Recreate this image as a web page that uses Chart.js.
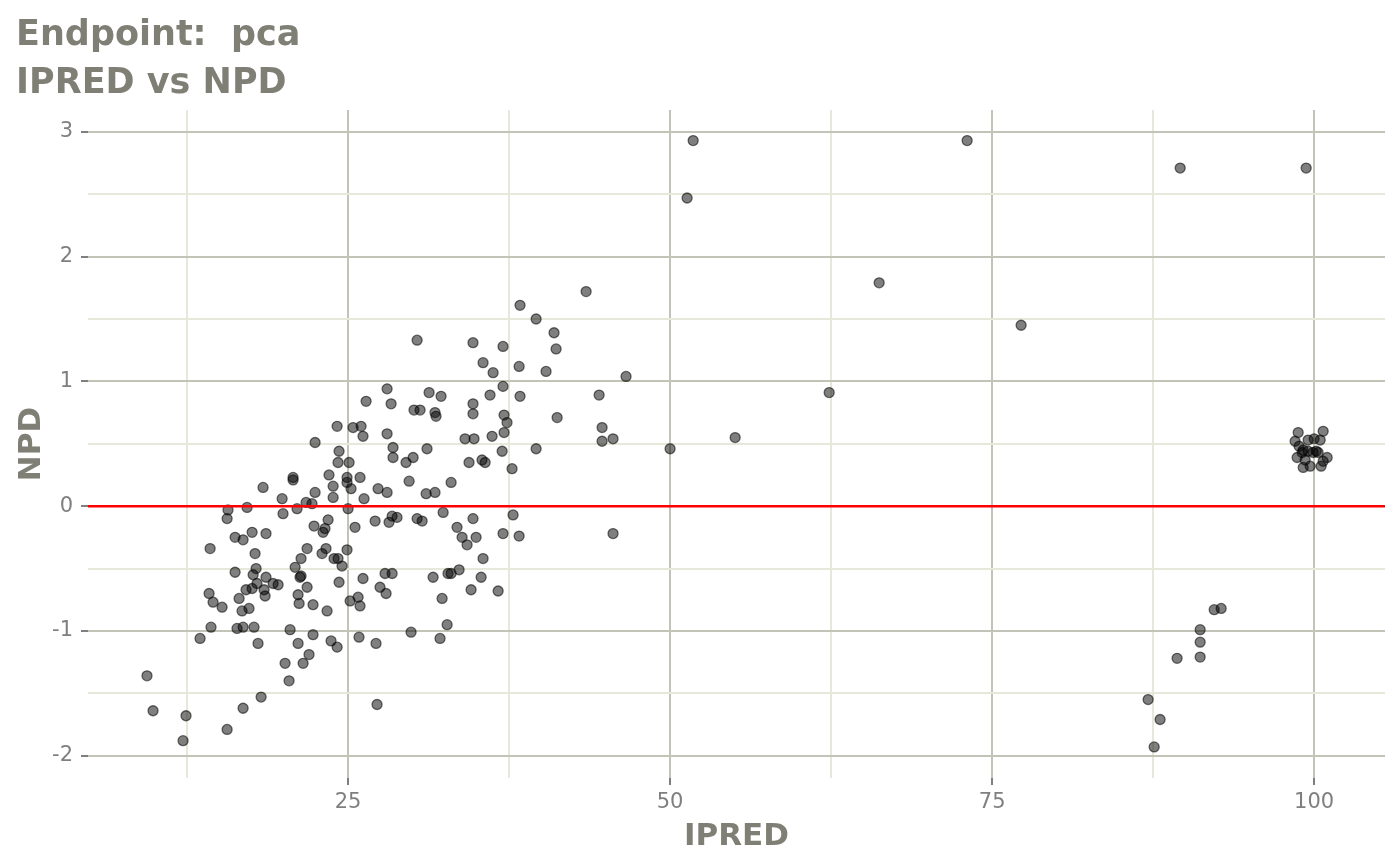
<!DOCTYPE html>
<html>
<head>
<meta charset="utf-8">
<title>IPRED vs NPD</title>
<script src="https://cdn.jsdelivr.net/npm/chart.js@4/dist/chart.umd.min.js"></script>
<style>
  html, body { margin: 0; padding: 0; background: #ffffff; }
  #wrap { width: 1400px; height: 865px; }
</style>
</head>
<body>
<div id="wrap"><canvas id="grafica"></canvas></div>
<script>
"use strict";

// valores (IPRED en x, NPD en y)
const ipred = [
  9.39, 9.86, 12.19, 12.42, 15.61, 16.85, 18.25, 27.25, 18.40, 20.73,
  19.88, 21.74, 22.44, 22.20, 15.68, 17.16, 15.61, 19.95, 21.04, 22.36,
  16.23, 16.85, 17.55, 18.63, 14.29, 17.78, 21.82, 21.35, 20.89, 16.23,
  17.86, 17.63, 18.63, 21.27, 21.35, 19.18, 19.57, 17.93, 17.55, 17.08,
  18.48, 18.56, 21.82, 14.21, 14.52, 15.22, 16.54, 16.77, 17.31, 21.12,
  21.20, 22.28, 14.36, 13.51, 16.38, 16.85, 17.70, 18.01, 20.50, 21.12,
  22.28, 21.97, 20.11, 21.51, 20.42, 23.84, 23.84, 24.92, 25.23, 26.24,
  27.33, 28.03, 29.74, 31.06, 31.75, 33.00, 25.00, 23.45, 23.06, 23.21,
  25.54, 27.10, 28.18, 28.42, 28.80, 30.36, 30.75, 32.38, 34.70, 33.46,
  33.85, 34.24, 34.94, 35.48, 23.29, 22.98, 24.92, 23.91, 24.22, 24.53,
  24.30, 26.16, 27.48, 27.95, 27.87, 28.42, 31.60, 32.76, 33.00, 33.62,
  35.33, 34.55, 32.30, 23.37, 25.16, 25.78, 25.93, 23.68, 24.15, 25.85,
  27.17, 29.89, 32.14, 32.69, 26.40, 24.15, 25.39, 26.01, 26.16, 22.44,
  24.30, 24.22, 25.08, 20.73, 23.52, 24.92, 25.93, 38.35, 39.60, 30.36,
  34.70, 37.03, 35.48, 36.26, 38.28, 40.37, 37.03, 36.02, 38.35, 28.03,
  31.29, 32.22, 28.34, 30.12, 30.59, 31.75, 31.83, 34.70, 34.70, 37.11,
  37.34, 37.11, 36.18, 34.08, 34.78, 28.03, 28.49, 28.49, 29.50, 30.05,
  31.13, 36.96, 39.60, 34.39, 35.40, 35.64, 37.73, 43.48, 40.99, 41.15,
  46.58, 44.49, 41.23, 44.72, 44.72, 45.57, 37.81, 37.03, 38.28, 45.57,
  36.65, 50.00, 51.32, 51.79, 55.05, 62.35, 66.23, 73.06, 77.25, 87.11,
  87.58, 88.04, 89.36, 89.60, 91.15, 91.15, 91.15, 92.24, 92.78, 99.38,
  98.76, 100.70, 98.52, 100.00, 100.47, 98.83, 99.15, 99.53, 99.92, 100.31,
  99.07, 98.68, 101.01, 99.30, 100.70, 99.15, 99.69, 100.54, 99.53, 100.16
];

const npd = [
  -1.36, -1.64, -1.88, -1.68, -1.79, -1.62, -1.53, -1.59, 0.15, 0.21,
  0.06, 0.03, 0.11, 0.02, -0.03, -0.01, -0.10, -0.06, -0.02, -0.16,
  -0.25, -0.27, -0.21, -0.22, -0.34, -0.38, -0.34, -0.42, -0.49, -0.53,
  -0.50, -0.55, -0.57, -0.57, -0.56, -0.62, -0.63, -0.62, -0.66, -0.67,
  -0.67, -0.72, -0.65, -0.70, -0.77, -0.81, -0.74, -0.84, -0.82, -0.71,
  -0.78, -0.79, -0.97, -1.06, -0.98, -0.97, -0.97, -1.10, -0.99, -1.10,
  -1.03, -1.19, -1.26, -1.26, -1.40, 0.16, 0.07, 0.19, 0.14, 0.06,
  0.14, 0.11, 0.20, 0.10, 0.11, 0.19, -0.02, -0.11, -0.21, -0.18,
  -0.17, -0.12, -0.13, -0.08, -0.09, -0.10, -0.12, -0.05, -0.10, -0.17,
  -0.25, -0.31, -0.25, -0.42, -0.34, -0.38, -0.35, -0.42, -0.42, -0.48,
  -0.61, -0.58, -0.65, -0.70, -0.54, -0.54, -0.57, -0.54, -0.54, -0.51,
  -0.57, -0.67, -0.74, -0.84, -0.76, -0.73, -0.80, -1.08, -1.13, -1.05,
  -1.10, -1.01, -1.06, -0.95, 0.84, 0.64, 0.63, 0.64, 0.56, 0.51,
  0.44, 0.35, 0.35, 0.23, 0.25, 0.23, 0.23, 1.61, 1.50, 1.33,
  1.31, 1.28, 1.15, 1.07, 1.12, 1.08, 0.96, 0.89, 0.88, 0.94,
  0.91, 0.88, 0.82, 0.77, 0.77, 0.75, 0.72, 0.82, 0.74, 0.73,
  0.67, 0.59, 0.56, 0.54, 0.54, 0.58, 0.47, 0.39, 0.35, 0.39,
  0.46, 0.44, 0.46, 0.35, 0.37, 0.35, 0.30, 1.72, 1.39, 1.26,
  1.04, 0.89, 0.71, 0.63, 0.52, 0.54, -0.07, -0.22, -0.24, -0.22,
  -0.68, 0.46, 2.47, 2.93, 0.55, 0.91, 1.79, 2.93, 1.45, -1.55,
  -1.93, -1.71, -1.22, 2.71, -0.99, -1.09, -1.21, -0.83, -0.82, 2.71,
  0.59, 0.60, 0.52, 0.54, 0.53, 0.48, 0.45, 0.44, 0.43, 0.43,
  0.43, 0.39, 0.39, 0.37, 0.36, 0.31, 0.32, 0.32, 0.53, 0.44
];

// ticks
const xMajor = [25, 50, 75, 100];
const xMinor = [12.5, 37.5, 62.5, 87.5];
const yMajor = [-2, -1, 0, 1, 2, 3];
const yMinor = [-1.5, -0.5, 0.5, 1.5, 2.5];

// limites de los ejes
const xMin = 4.81, xMax = 105.5;
const yMin = -2.179, yMax = 3.176;
const lineaReferencia = 0;

const colorTexto = "#7f7f75";
const colorTicks = "#7f7f7f";
const gridMayor = "#c3c3b8";
const gridMenor = "#e8e8da";

let puntos = ipred.map((x, i) => ({ x: x, y: npd[i] }));

const ctx = document.getElementById("grafica").getContext("2d");

new Chart(ctx, {
  type: "scatter",
  data: {
    datasets: [
      {
        type: "line",
        label: "cero",
        data: [{ x: xMin, y: lineaReferencia }, { x: xMax, y: lineaReferencia }],
        borderColor: "#ff0000",
        borderWidth: 2.5,
        pointRadius: 0,
        fill: false,
        order: 0
      },
      {
        label: "NPD",
        data: puntos,
        backgroundColor: "rgba(0,0,0,0.5)",
        borderColor: "rgba(0,0,0,0.55)",
        borderWidth: 1.3,
        pointRadius: 5,
        order: 1
      }
    ]
  },
  options: {
    responsive: true,
    maintainAspectRatio: false,
    animation: false,
    layout: { padding: { left: 16, right: 15, top: 0, bottom: 0 } },
    plugins: {
      legend: { display: false },
      tooltip: { enabled: false },
      title: {
        display: true,
        text: ["Endpoint:  pca", "IPRED vs NPD"],
        align: "start",
        color: colorTexto,
        font: { family: "DejaVu Sans", size: 35, weight: "bold", lineHeight: 1.363 },
        padding: { top: 12.5, bottom: 2 }
      }
    },
    scales: {
      x: {
        type: "linear",
        min: xMin,
        max: xMax,
        afterBuildTicks: scale => {
          scale.ticks = xMinor.concat(xMajor).sort((a, b) => a - b).map(v => ({ value: v }));
        },
        afterFit: scale => { scale.height = 87; },
        ticks: {
          autoSkip: false,
          maxRotation: 0,
          padding: 5,
          color: colorTicks,
          font: { family: "DejaVu Sans", size: 21 },
          callback: v => xMajor.includes(v) ? String(v) : ""
        },
        grid: {
          lineWidth: 2,
          tickLength: 7,
          color: c => xMajor.includes(c.tick.value) ? gridMayor : gridMenor,
          tickColor: c => xMajor.includes(c.tick.value) ? colorTicks : "rgba(0,0,0,0)"
        },
        border: { display: false },
        title: {
          display: true,
          text: "IPRED",
          color: colorTexto,
          font: { family: "DejaVu Sans", size: 31, weight: "bold" },
          padding: { top: 0, bottom: 9 }
        }
      },
      y: {
        type: "linear",
        min: yMin,
        max: yMax,
        afterBuildTicks: scale => {
          scale.ticks = yMinor.concat(yMajor).sort((a, b) => a - b).map(v => ({ value: v }));
        },
        afterFit: scale => { scale.width = 72; },
        ticks: {
          autoSkip: false,
          padding: 8,
          color: colorTicks,
          font: { family: "DejaVu Sans", size: 21 },
          callback: v => yMajor.includes(v) ? String(v) : ""
        },
        grid: {
          lineWidth: 2,
          tickLength: 7,
          color: c => yMajor.includes(c.tick.value) ? gridMayor : gridMenor,
          tickColor: c => yMajor.includes(c.tick.value) ? colorTicks : "rgba(0,0,0,0)"
        },
        border: { display: false },
        title: {
          display: true,
          text: "NPD",
          color: colorTexto,
          font: { family: "DejaVu Sans", size: 31, weight: "bold" },
          padding: { top: -3, bottom: 0 }
        }
      }
    }
  }
});
</script>
</body>
</html>
